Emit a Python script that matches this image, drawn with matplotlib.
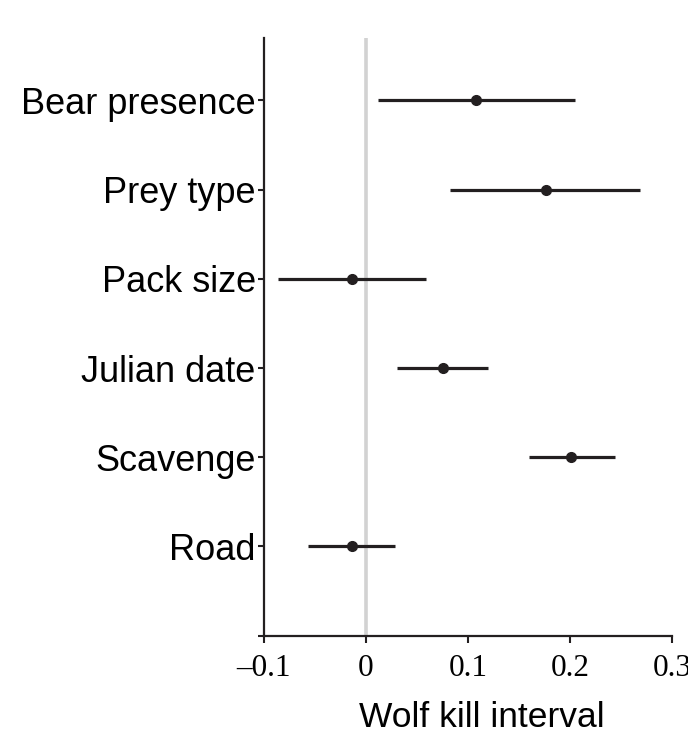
import matplotlib
matplotlib.use("Agg")
import matplotlib.pyplot as plt
import numpy as np

# factor names, bottom to top
factors = ["Road", "Scavenge", "Julian date", "Pack size", "Prey type", "Bear presence"]
# point estimates and interval bounds
estimate = [-0.014, 0.201, 0.075, -0.014, 0.176, 0.108]
lower = [-0.057, 0.160, 0.030, -0.086, 0.082, 0.012]
upper = [0.028, 0.244, 0.120, 0.059, 0.269, 0.205]
xticks = [-0.1, 0.0, 0.1, 0.2, 0.3]
xtick_labels = ["\u20130.1", "0", "0.1", "0.2", "0.3"]

ink = "#231f20"

fig = plt.figure(figsize=(6.88, 7.37), dpi=100)
ax = fig.add_axes([264 / 688, 1 - 635.7 / 737, 408 / 688, (635.7 - 38) / 737])

ypos = np.arange(1, len(factors) + 1)
est = np.array(estimate)
xerr = [est - np.array(lower), np.array(upper) - est]

# zero reference line
ax.axvline(0, color="#d2d2d2", lw=2.6, zorder=0)
ax.errorbar(est, ypos, xerr=xerr, fmt="o", color=ink, ms=7,
            elinewidth=2.3, capsize=0, zorder=3)

ax.set_xlim(-0.1, 0.3)
ax.set_ylim(0, 6.7)

ax.set_yticks(np.arange(0, len(factors) + 1))
ax.set_yticklabels([""] + factors, family="Liberation Sans", fontsize=26)
ax.set_xticks(xticks)
ax.set_xticklabels(xtick_labels, family="Liberation Serif", fontsize=22.5)

for side in ["top", "right"]:
    ax.spines[side].set_visible(False)
for side in ["left", "bottom"]:
    ax.spines[side].set_linewidth(1.6)
    ax.spines[side].set_color(ink)

ax.tick_params(axis="y", length=4.5, width=1.5, pad=1.5, color=ink)
ax.tick_params(axis="x", length=5, width=1.5, pad=8, color=ink)

fig.text(482 / 688, 10 / 737, "Wolf kill interval", family="Liberation Sans",
         fontsize=25.5, ha="center", va="baseline")

fig.savefig("out.png", dpi=100)
